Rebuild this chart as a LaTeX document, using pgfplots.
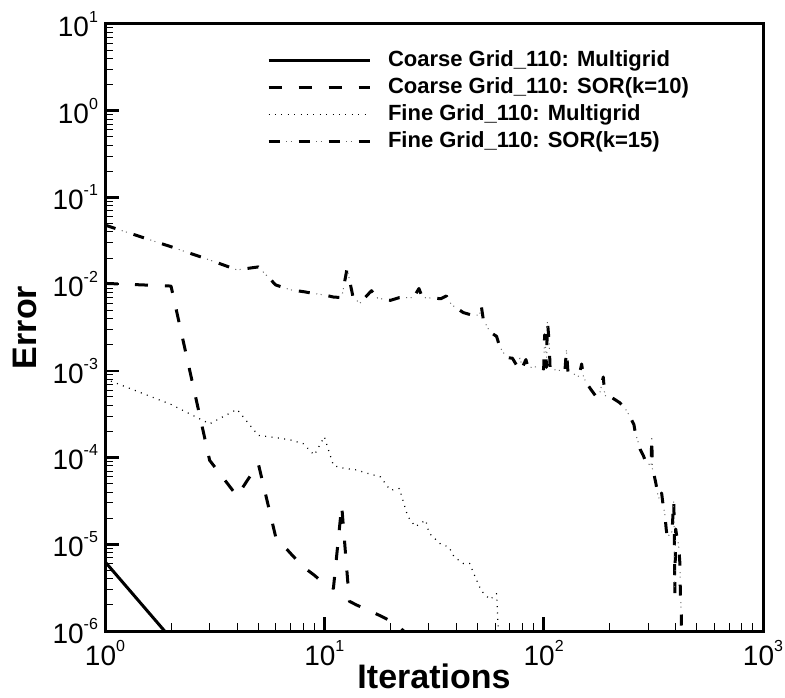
\documentclass[border=0pt]{standalone}
\usepackage{fontspec}
\setmainfont{Liberation Sans}
\usepackage{pgfplots}
\pgfplotsset{compat=1.18}
\newcommand{\decl}[1]{10\raisebox{7pt}{\fontsize{8}{8}\selectfont #1}}
\begin{document}
\begin{tikzpicture}
\begin{axis}[
  scale only axis, width=329pt, height=303.5pt,
  xmode=log, ymode=log, xmin=1, xmax=1000, ymin=1e-6, ymax=10,
  axis line style={line width=1.5pt},
  tick align=inside, xtick pos=bottom, ytick pos=left,
  xtick={1,10,100,1000},
  xticklabels={\decl{0},\decl{1},\decl{2},\decl{3}},
  minor xtick={2,3,4,5,6,7,8,9,20,30,40,50,60,70,80,90,200,300,400,500,600,700,800,900},
  ytick={1e-6,1e-5,1e-4,1e-3,1e-2,1e-1,1,10},
  yticklabels={\decl{-6},\decl{-5},\decl{-4},\decl{-3},\decl{-2},\decl{-1},\decl{0},\decl{1}},
  minor ytick={2e-6,3e-6,4e-6,5e-6,6e-6,7e-6,8e-6,9e-6,
    2e-5,3e-5,4e-5,5e-5,6e-5,7e-5,8e-5,9e-5,
    2e-4,3e-4,4e-4,5e-4,6e-4,7e-4,8e-4,9e-4,
    2e-3,3e-3,4e-3,5e-3,6e-3,7e-3,8e-3,9e-3,
    0.02,0.03,0.04,0.05,0.06,0.07,0.08,0.09,
    0.2,0.3,0.4,0.5,0.6,0.7,0.8,0.9,
    2,3,4,5,6,7,8,9},
  major tick length=7pt, minor tick length=4pt,
  every major tick/.append style={line width=1.3pt, black},
  every minor tick/.append style={line width=0.5pt, black},
  tick label style={font=\fontsize{14}{16}\selectfont},
  xticklabel shift=1.3pt,
  xlabel={Iterations}, ylabel={Error},
  every axis x label/.style={at={(axis description cs:0.5,-0.0422)}, anchor=north, font=\bfseries\fontsize{17}{20}\selectfont},
  every axis y label/.style={at={(axis description cs:-0.1216,0.5)}, rotate=90, anchor=center, font=\bfseries\fontsize{17}{20}\selectfont},
  legend style={at={(axis description cs:0.2462,0.956)}, anchor=north west, draw=none, fill=none,
    inner sep=0pt, outer sep=0pt, row sep=3.6pt, column sep=8.5pt,
    font=\bfseries\fontsize{11}{12}\selectfont,
    nodes={inner sep=0pt, text height=7.9pt, text depth=2pt}},
  legend cell align=left,
  legend image code/.code={\draw[#1] (0pt,0pt) -- (50.5pt,0pt);},
]
% Coarse Grid Multigrid
\addplot[black, line width=1.5pt] coordinates {(1,6.3e-6) (2,8.2e-7)};
\addlegendentry{Coarse Grid\_110: Multigrid}
% Coarse Grid SOR
\addplot[black, line width=1.5pt, dash pattern=on 6.5pt off 8.5pt, line join=round] coordinates {
(1,0.0102) (2,0.0095) (3,9.3e-5) (4,3.6e-5) (5,8.5e-5) (6,1.22e-5) (7,7.9e-6) (8,5.5e-6)
(9,4.4e-6) (10,3.5e-6) (11,3.1e-6) (12,2.8e-5) (13,2.2e-6) (14,2.0e-6) (15,1.85e-6)
(16,1.7e-6) (17,1.6e-6) (18,1.5e-6) (19,1.4e-6) (20,1.3e-6) (21,1.2e-6) (22,1.1e-6)
(23,1.0e-6) (24,0.9e-6) (26,0.7e-6)};
\addlegendentry{Coarse Grid\_110: SOR(k=10)}
% Fine Grid Multigrid
\addplot[black, line width=0.6pt, dash pattern=on 0.5pt off 2.7pt, line join=round] coordinates {
(1,8.1e-4) (2,4.1e-4) (3,2.45e-4) (4,3.6e-4) (5,1.8e-4) (6,1.7e-4) (7,1.6e-4) (8,1.45e-4)
(9,1.07e-4) (10,1.74e-4) (11,8.1e-5) (12,7.6e-5) (14,7.2e-5) (16,6.5e-5) (18,6.0e-5)
(19,5.0e-5) (20,4.2e-5) (22,4.4e-5) (24,2.1e-5) (26,1.6e-5) (29,1.9e-5) (30,1.35e-5)
(34,1.0e-5) (37,9.3e-6) (39,7.2e-6) (43,6.0e-6) (46,6.0e-6) (48,4.6e-6) (52,2.9e-6)
(57,2.3e-6) (61,2.7e-6) (63,5e-7)};
\addlegendentry{Fine Grid\_110: Multigrid}
% Fine Grid SOR (dashes)
\addplot[black, line width=1.5pt, dash pattern=on 5.5pt off 9.5pt, line join=round,
  legend image code/.code={
    \draw[black, line width=1.5pt, dash pattern=on 5.5pt off 9.5pt] (0pt,0pt) -- (50.5pt,0pt);
    \draw[black!60, line width=0.5pt, dash pattern=on 0.5pt off 1.7pt on 0.5pt off 12.3pt, dash phase=6.2pt] (0pt,0pt) -- (50.5pt,0pt);}
  ] table {
x y
1 0.048
2 0.027
3 0.019
4 0.0146
5 0.0158
6 0.0098
7 0.0086
8 0.0082
9 0.0078
10 0.0075
11 0.0071
12 0.0070
12.7 0.0152
13.5 0.0072
14.5 0.0060
16.4 0.0084
17.5 0.0069
20 0.0065
22 0.0070
24 0.0070
25.5 0.0070
27 0.0089
28 0.0070
31 0.0069
34 0.0068
36 0.0073
38 0.0058
43 0.0047
47 0.0044
51 0.0044
52 0.0055
53 0.0040
55 0.0033
57 0.0028
61 0.0025
63 0.0019
66 0.00158
68 0.00142
72 0.0014
75 0.00118
78 0.0014
80 0.0011
83 0.00135
85 0.00108
88 0.0011
95 0.00112
100 0.00105
101 0.0026
102 0.0021
103 0.0011
104 0.0038
106 0.0021
107 0.00105
115 0.00102
125 0.00100
127 0.00175
129 0.00098
136 0.00093
145 0.00086
149 0.0012
152 0.00085
157 0.00072
165 0.00060
172 0.00052
180 0.00054
187 0.00085
190 0.00052
205 0.00049
222 0.00043
235 0.00037
245 0.00031
252 0.00027
258 0.00024
262 0.00019
270 0.00015
275 0.000125
285 0.000105
290 0.000093
300 0.000085
309 0.00008
311 0.000175
313 0.000075
318 0.000065
325 0.00005
332 0.000036
338 0.000033
345 0.000039
350 0.000029
357 0.000022
362 0.000015
366 0.000012
375 0.000013
385 0.000014
392 0.000033
394 0.000015
396 0.0000027
400 0.000015
405 0.000012
412 0.00001
418 0.000006
420 0.0000027
424 0.0000016
427 0.0000005
};
\addlegendentry{Fine Grid\_110: SOR(k=15)}
% Fine Grid SOR (dots of the dash-dot-dot pattern)
\addplot[forget plot, black!60, line width=0.5pt, dash pattern=on 0.5pt off 1.7pt on 0.5pt off 12.3pt, dash phase=6.2pt, line join=round] table {
x y
1 0.048
2 0.027
3 0.019
4 0.0146
5 0.0158
6 0.0098
7 0.0086
8 0.0082
9 0.0078
10 0.0075
11 0.0071
12 0.0070
12.7 0.0152
13.5 0.0072
14.5 0.0060
16.4 0.0084
17.5 0.0069
20 0.0065
22 0.0070
24 0.0070
25.5 0.0070
27 0.0089
28 0.0070
31 0.0069
34 0.0068
36 0.0073
38 0.0058
43 0.0047
47 0.0044
51 0.0044
52 0.0055
53 0.0040
55 0.0033
57 0.0028
61 0.0025
63 0.0019
66 0.00158
68 0.00142
72 0.0014
75 0.00118
78 0.0014
80 0.0011
83 0.00135
85 0.00108
88 0.0011
95 0.00112
100 0.00105
101 0.0026
102 0.0021
103 0.0011
104 0.0038
106 0.0021
107 0.00105
115 0.00102
125 0.00100
127 0.00175
129 0.00098
136 0.00093
145 0.00086
149 0.0012
152 0.00085
157 0.00072
165 0.00060
172 0.00052
180 0.00054
187 0.00085
190 0.00052
205 0.00049
222 0.00043
235 0.00037
245 0.00031
252 0.00027
258 0.00024
262 0.00019
270 0.00015
275 0.000125
285 0.000105
290 0.000093
300 0.000085
309 0.00008
311 0.000175
313 0.000075
318 0.000065
325 0.00005
332 0.000036
338 0.000033
345 0.000039
350 0.000029
357 0.000022
362 0.000015
366 0.000012
375 0.000013
385 0.000014
392 0.000033
394 0.000015
396 0.0000027
400 0.000015
405 0.000012
412 0.00001
418 0.000006
420 0.0000027
424 0.0000016
427 0.0000005
};
\coordinate (ll) at (rel axis cs:0,0);
\coordinate (ur) at (rel axis cs:1,1);
\end{axis}
\pgfresetboundingbox
\path[use as bounding box] ([shift={(-52.5pt,-33.5pt)}]ll) rectangle ([shift={(11pt,12pt)}]ur);
\end{tikzpicture}
\end{document}
